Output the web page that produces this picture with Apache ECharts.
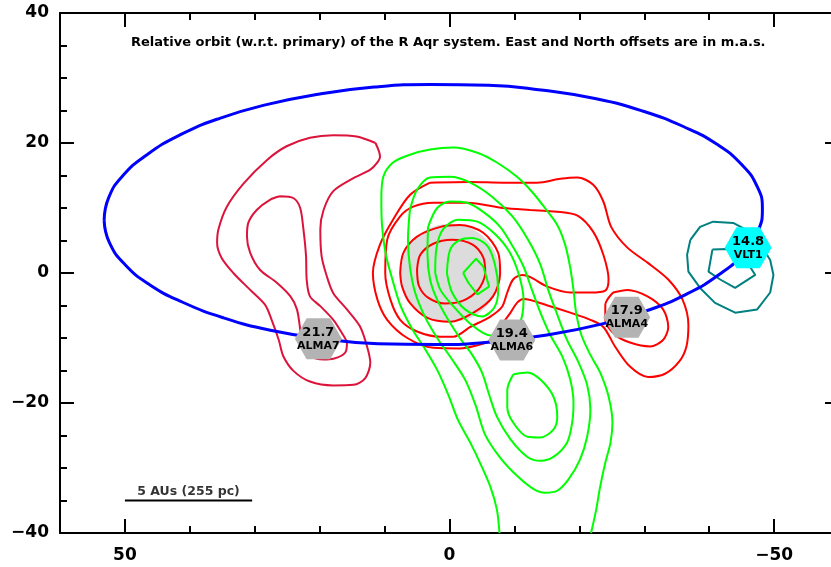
<!DOCTYPE html>
<html><head><meta charset="utf-8">
<script src="https://cdn.jsdelivr.net/npm/echarts@6/dist/echarts.min.js"></script>
<style>html,body{margin:0;padding:0;background:#fff}#c{width:831px;height:567px}</style>
</head><body><div id="c"></div>
<script>
// ---------------- data ----------------
const titleText = 'Relative orbit (w.r.t. primary) of the R Aqr system. East and North offsets are in m.a.s.';
const xRange = [-60, 60];
const yRange = [-40, 40];
const xMajorTicks = [-50, 0, 50];
const xMinorStep = 10;
const yMajorStep = 20;

// projected orbit of the companion (East offset, North offset) in mas
const orbit = [
 [53.2,8.1],[52.5,11.6],[50.3,15.0],[46.6,18.2],[41.6,21.2],[35.4,23.8],[28.2,25.9],[20.2,27.5],
 [11.6,28.6],[2.9,29.0],[-6.0,28.9],[-14.5,28.1],[-22.6,26.8],[-29.8,24.9],[-36.1,22.5],[-41.2,19.8],
 [-45.0,16.7],[-47.4,13.3],[-48.2,9.9],[-47.5,6.4],[-45.3,3.0],[-41.6,-0.2],[-36.6,-3.2],[-30.4,-5.8],
 [-23.2,-7.9],[-15.2,-9.5],[-6.6,-10.6],[2.2,-11.0],[11.0,-10.9],[19.5,-10.1],[27.6,-8.8],[34.8,-6.9],
 [41.1,-4.5],[46.2,-1.8],[50.0,1.3],[52.4,4.7],[53.2,8.1]
];

// primary star disc
const primaryCenter = [-0.1, 0.0];
const primaryRadius = 7.6;

// crimson contours (left lobe)
const crimsonOuter = [
 [11.4,20.0],[14.3,21.0],[17.9,21.2],[21.5,20.8],[25.1,19.5],[28.1,17.4],[31.7,13.8],[34.3,10.2],
 [35.6,6.7],[35.8,4.6],[35.1,2.3],[33.3,0.0],[30.7,-2.6],[28.4,-4.9],[27.4,-7.2],[26.3,-10.3],
 [25.6,-12.8],[24.0,-15.1],[21.5,-16.7],[17.9,-17.3],[14.8,-17.2],[13.0,-16.2],[12.2,-13.8],[12.7,-11.3],
 [13.8,-8.2],[15.8,-5.6],[17.9,-3.1],[18.9,-0.5],[19.7,2.6],[19.9,6.7],[19.4,9.7],[17.9,12.6],
 [14.8,14.6],[12.2,15.9],[11.2,16.9],[10.7,17.9],[11.4,20.0]
];
const crimsonInner = [
 [26.1,11.8],[24.0,11.5],[23.0,10.0],[22.5,6.7],[22.1,2.6],[22.0,-1.0],[21.5,-3.6],[19.9,-5.1],
 [17.9,-7.2],[16.6,-9.2],[15.8,-10.8],[16.1,-12.3],[17.9,-13.2],[19.4,-13.3],[21.5,-12.8],[22.7,-11.3],
 [23.0,-8.7],[23.5,-5.6],[24.5,-3.6],[26.6,-1.5],[29.2,0.5],[30.7,3.1],[31.2,5.6],[31.0,7.7],
 [29.7,9.7],[27.6,11.3],[26.1,11.8]
];

// red contours (central source)
const red1 = [[5.0,0.5],[4.5,2.8],[2.5,4.5],[-0.4,5.1],[-3.5,4.4],[-5.2,2.4],[-5.5,0.0],[-4.4,-2.6],[-2.0,-4.3],[0.7,-4.7],[3.3,-3.8],[4.7,-2.0],[5.0,0.5]];
const red2 = [[7.6,0.0],[7.1,3.1],[5.0,5.6],[1.4,7.1],[-1.6,7.4],[-5.2,6.2],[-7.5,3.1],[-7.8,0.0],[-6.7,-3.6],[-3.7,-6.1],[-0.1,-7.5],[3.4,-6.9],[6.1,-4.6],[7.3,-2.1],[7.6,0.0]];
const red3 = [
 [-17.1,9.4],[-19.8,8.8],[-22.1,6.4],[-23.7,2.8],[-24.5,-1.0],[-24.0,-2.7],[-21.7,-3.0],[-18.6,-3.0],
 [-15.1,-2.1],[-12.4,-0.6],[-11.2,-0.3],[-9.8,-1.0],[-8.9,-3.0],[-8.1,-5.2],[-6.3,-6.7],[-3.2,-8.3],
 [-0.6,-9.8],[1.4,-9.8],[5.0,-9.0],[7.6,-7.2],[9.1,-4.1],[9.9,0.0],[9.6,5.1],[7.6,8.7],
 [5.6,10.2],[2.5,10.8],[-2.7,10.8],[-8.3,10.0],[-12.4,9.7],[-17.1,9.4]
];
const red4 = [
 [3.0,13.9],[-3.2,14.0],[-8.3,13.9],[-13.5,13.9],[-17.1,14.5],[-19.7,14.7],[-22.1,13.6],[-23.7,11.0],
 [-24.9,7.1],[-27.4,3.9],[-30.5,1.6],[-33.7,-1.0],[-35.9,-4.1],[-36.8,-8.0],[-36.5,-11.3],[-35.4,-13.6],
 [-33.2,-15.5],[-30.6,-16.0],[-27.8,-14.4],[-25.5,-11.3],[-23.7,-8.3],[-21.7,-7.2],[-18.6,-6.1],[-15.1,-5.0],
 [-11.4,-4.0],[-10.4,-4.6],[-9.4,-6.1],[-8.3,-7.6],[-6.3,-10.4],[-4.0,-11.2],[-1.6,-11.6],[2.5,-11.5],
 [6.5,-10.0],[9.6,-7.2],[11.1,-4.1],[11.8,0.0],[10.7,4.4],[8.7,8.2],[6.1,12.0],[3.0,13.9]
];
const red5 = [[-25.2,-3.0],[-27.4,-2.6],[-30.5,-3.6],[-32.9,-5.6],[-33.7,-8.3],[-32.9,-10.3],[-30.9,-11.3],[-27.8,-10.7],[-25.5,-9.5],[-24.0,-7.2],[-24.0,-4.9],[-25.2,-3.0]];

// green contours
const green1 = [
 [-7.7,-40],[-7.3,-36.4],[-6.3,-32.9],[-4.7,-29.2],[-3.2,-26.1],[-1.3,-22.6],[0.2,-18.7],[1.9,-14.9],
 [3.7,-11.8],[5.7,-8.7],[7.6,-4.9],[8.8,-1.0],[9.8,2.8],[10.4,7.4],[10.5,11.3],[10.2,14.8],
 [8.7,17.0],[6.1,18.2],[3.0,19.0],[-0.6,19.3],[-4.3,18.5],[-7.3,17.0],[-10.4,14.8],[-12.7,12.5],
 [-14.7,10.0],[-16.6,7.4],[-17.8,4.4],[-18.6,0.8],[-19.1,-2.6],[-19.5,-6.1],[-20.3,-9.5],[-21.7,-12.6],
 [-23.2,-15.3],[-24.5,-19.0],[-25.1,-23.0],[-24.8,-26.1],[-24.0,-29.2],[-23.2,-32.9],[-22.6,-36.4],[-21.8,-40]
];
const green2 = [
 [6.1,9.7],[5.0,12.8],[3.0,14.7],[-0.1,14.8],[-3.2,13.9],[-6.6,11.7],[-9.7,8.7],[-12.1,5.1],
 [-14.0,1.3],[-15.2,-2.6],[-16.6,-6.4],[-18.1,-10.3],[-19.8,-13.6],[-21.2,-17.2],[-21.7,-21.0],[-21.2,-25.2],
 [-20.1,-28.7],[-18.3,-31.8],[-16.6,-33.5],[-14.7,-33.8],[-12.9,-33.2],[-10.4,-31.2],[-7.8,-28.4],[-5.5,-24.9],
 [-4.0,-20.3],[-2.4,-16.4],[-0.4,-13.3],[1.7,-10.3],[3.7,-6.9],[5.3,-3.0],[6.1,1.0],[6.4,5.1],[6.1,9.7]
];
const green3 = [
 [3.3,7.1],[1.9,10.0],[-0.1,11.0],[-2.7,10.8],[-5.2,9.4],[-7.8,7.1],[-9.8,4.0],[-11.4,1.0],
 [-12.7,-2.6],[-14.0,-6.1],[-15.5,-9.5],[-17.4,-12.9],[-18.6,-16.4],[-19.1,-20.0],[-18.9,-23.0],[-18.1,-26.1],
 [-16.0,-28.3],[-14.0,-28.9],[-12.0,-28.3],[-9.4,-25.6],[-7.3,-22.1],[-6.1,-18.7],[-5.0,-15.3],[-3.5,-12.6],
 [-1.6,-10.0],[0.2,-7.2],[1.9,-4.1],[3.0,-1.0],[3.4,3.1],[3.3,7.1]
];
const green4 = [
 [2.2,0.0],[2.0,3.9],[1.0,6.7],[-1.3,8.2],[-4.3,7.9],[-7.0,6.0],[-9.2,3.3],[-10.7,-0.3],
 [-11.4,-4.1],[-10.9,-7.5],[-9.0,-9.6],[-6.3,-9.6],[-3.2,-7.8],[-0.4,-4.9],[1.4,-2.6],[2.2,0.0]
];
const green4b = [[-9.8,-15.6],[-12.0,-15.3],[-14.0,-16.4],[-16.0,-19.0],[-16.6,-22.1],[-16.0,-24.1],[-14.0,-25.3],[-12.0,-25.2],[-9.8,-23.0],[-8.9,-20.6],[-8.9,-18.0],[-9.8,-15.6]];
const green5 = [[0.4,0.0],[-0.1,3.6],[-1.6,5.1],[-3.5,5.4],[-5.8,4.2],[-7.0,1.3],[-7.5,-2.6],[-6.9,-5.3],[-5.0,-6.7],[-2.4,-5.6],[-0.4,-3.0],[0.4,0.0]];
const green6 = [[-2.1,0.0],[-4.1,2.2],[-5.2,1.0],[-6.1,-2.1],[-4.3,-3.3],[-2.9,-1.5],[-2.1,0.0]];

// teal contours (VLT1)
const teal1 = [[-37.1,5.1],[-38.6,7.1],[-40.6,7.9],[-43.7,7.7],[-45.6,6.7],[-47.9,4.4],[-49.4,2.0],[-49.9,-0.3],[-49.4,-3.0],[-47.4,-5.6],[-44.0,-6.1],[-40.9,-4.6],[-38.6,-2.3],[-36.8,0.2],[-36.6,2.8],[-37.1,5.1]];
const teal2 = [[-40.5,3.6],[-42.8,3.7],[-44.8,3.3],[-47.1,-0.3],[-44.0,-2.3],[-41.7,-1.0],[-39.9,0.2],[-40.5,3.6]];

// epochs markers
const markerNames  = ['VLT1', 'ALMA4', 'ALMA6', 'ALMA7'];
const markerValues = ['14.8', '17.9', '19.4', '21.7'];
const markerX = [-46.0, -27.3, -9.6, 20.2];
const markerY = [3.9, -6.8, -10.3, -10.1];
const markerColors = ['#00ffff', '#b3b3b3', '#b3b3b3', '#b3b3b3'];

// scale bar: 5 AU at 255 pc
const scaleBar = [[50, -35], [30.4, -35]];
const scaleBarLabel = '5 AUs (255 pc)';

// ---------------- chart ----------------
const chart = echarts.init(document.getElementById('c'), null, {renderer: 'canvas'});
const fmt = v => (v < 0 ? '\u2212' + Math.abs(v) : String(v));
const lblFont = {fontFamily: 'DejaVu Sans', fontWeight: 'bold', fontSize: 17, color: '#000'};
const axLine = {show: true, onZero: false, lineStyle: {color: '#000', width: 2}};
const noLine = {show: false, onZero: false};

function xAxisDef(pos, major, showLine, showLabel) {
  const a = {
    type: 'value', position: pos, min: xRange[0], max: xRange[1], inverse: true,
    axisLine: showLine ? axLine : noLine,
    splitLine: {show: false},
    axisTick: {show: true, inside: true, length: major ? 14 : 7, lineStyle: {color: '#000', width: 2}},
    axisLabel: showLabel ? Object.assign({show: true, margin: 14, formatter: fmt, customValues: xMajorTicks}, lblFont) : {show: false}
  };
  if (major) { a.axisTick.customValues = xMajorTicks; a.interval = 50; }
  else { a.interval = xMinorStep; }
  return a;
}
function yAxisDef(pos, showLabel) {
  return {
    type: 'value', position: pos, min: yRange[0], max: yRange[1], interval: yMajorStep,
    axisLine: axLine, splitLine: {show: false},
    axisTick: {show: true, inside: true, length: 14, lineStyle: {color: '#000', width: 2}},
    minorTick: {show: true, splitNumber: 4, length: 7, lineStyle: {color: '#000', width: 2}},
    minorSplitLine: {show: false},
    axisLabel: showLabel ? Object.assign({show: true, margin: 11, formatter: fmt}, lblFont) : {show: false}
  };
}

function contour(pts, color, smooth) {
  return {type: 'line', data: pts, xAxisIndex: 0, yAxisIndex: 0, showSymbol: false, symbol: 'none',
    smooth: smooth, lineStyle: {color: color, width: 2}, silent: true, z: 3};
}

const hexPath = 'path://M0,43.3 L25,0 L75,0 L100,43.3 L75,86.6 L25,86.6 Z';

const option = {
  animation: false,
  backgroundColor: '#fff',
  title: {
    text: titleText, left: 131, top: 36, padding: 0,
    textStyle: {fontFamily: 'DejaVu Sans', fontWeight: 'bold', fontSize: 13, color: '#000'}
  },
  grid: {left: 60, top: 13, right: -8, bottom: 34, outerBoundsMode: 'none', containLabel: false},
  xAxis: [
    xAxisDef('bottom', true, true, true),
    xAxisDef('bottom', false, false, false),
    xAxisDef('top', true, true, false),
    xAxisDef('top', false, false, false)
  ],
  yAxis: [yAxisDef('left', true), yAxisDef('right', false)],
  series: [
    {
      type: 'custom', coordinateSystem: 'cartesian2d', xAxisIndex: 0, yAxisIndex: 0, silent: true, z: 2,
      data: [[primaryCenter[0], primaryCenter[1], primaryRadius]],
      renderItem: function (params, api) {
        const c = api.coord([api.value(0), api.value(1)]);
        const r = Math.abs(api.size([api.value(2), 0])[0]);
        return {type: 'circle', shape: {cx: c[0], cy: c[1], r: r}, style: {fill: '#dcdcdc'}};
      }
    },
    contour(crimsonOuter, '#dc143c', 0.3),
    contour(crimsonInner, '#dc143c', 0.3),
    contour(red4, '#ff0000', 0.3),
    contour(red3, '#ff0000', 0.3),
    contour(red2, '#ff0000', 0.3),
    contour(red1, '#ff0000', 0.3),
    contour(red5, '#ff0000', 0.3),
    contour(green1, '#00ff00', 0.3),
    contour(green2, '#00ff00', 0.3),
    contour(green3, '#00ff00', 0.3),
    contour(green4, '#00ff00', 0.3),
    contour(green4b, '#00ff00', 0.3),
    contour(green5, '#00ff00', 0.3),
    contour(green6, '#00ff00', false),
    contour(teal1, '#008080', false),
    contour(teal2, '#008080', false),
    {type: 'line', data: orbit, showSymbol: false, symbol: 'none', smooth: true,
     lineStyle: {color: '#0000ff', width: 3}, silent: true, z: 4},
    {type: 'line', data: scaleBar, showSymbol: false, symbol: 'none',
     lineStyle: {color: '#000', width: 2}, silent: true, z: 4},
    {type: 'scatter', data: [[(scaleBar[0][0] + scaleBar[1][0]) / 2, scaleBar[0][1]]], symbolSize: 1,
     itemStyle: {color: 'rgba(0,0,0,0)'}, silent: true, z: 5,
     label: {show: true, position: 'top', distance: 2, formatter: scaleBarLabel,
       fontFamily: 'DejaVu Sans', fontWeight: 'bold', fontSize: 12.5, color: '#000'}},
    {type: 'scatter', symbol: hexPath, symbolSize: [47, 41], silent: true, z: 6,
     data: markerNames.map((n, i) => ({
       value: [markerX[i], markerY[i]], name: n,
       itemStyle: {color: markerColors[i], opacity: 1}
     })),
     label: {show: true, position: 'inside',
       formatter: p => '{a|' + markerValues[p.dataIndex] + '}\n{b|' + p.name + '}',
       rich: {
         a: {fontFamily: 'DejaVu Sans', fontWeight: 'bold', fontSize: 13, color: '#000', lineHeight: 14},
         b: {fontFamily: 'DejaVu Sans', fontWeight: 'bold', fontSize: 11, color: '#000', lineHeight: 13}
       }}
    }
  ]
};
chart.setOption(option);
</script>
</body></html>
